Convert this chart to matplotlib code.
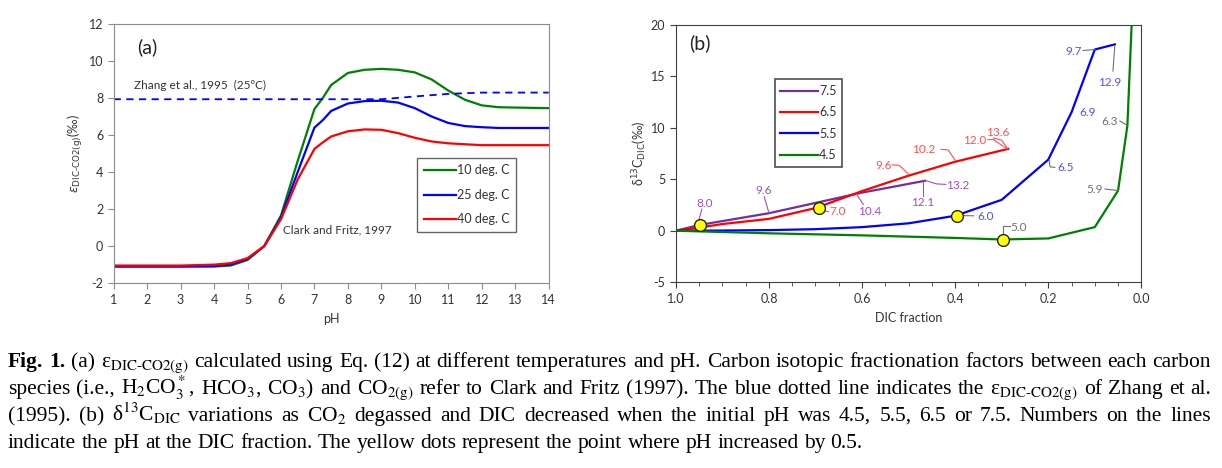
import numpy as np
import matplotlib
matplotlib.use("Agg")
import matplotlib.pyplot as plt
from matplotlib.ticker import MultipleLocator

plt.rcParams["font.family"] = ["Lato", "DejaVu Sans"]
plt.rcParams["axes.unicode_minus"] = False

# ---- panel (a): epsilon DIC-CO2(g) vs pH ----
ph = [1, 2, 3, 4, 4.5, 5, 5.5, 6, 6.5, 7, 7.25, 7.5, 8, 8.5, 9, 9.5, 10, 10.5, 11, 11.5, 12, 12.5, 13, 14]
eps_10 = [-1.1, -1.1, -1.1, -1.1, -1.05, -0.75, 0.0, 1.65, 4.6, 7.4, 8.0, 8.7, 9.35, 9.52, 9.57, 9.52,
          9.38, 9.0, 8.4, 7.9, 7.6, 7.5, 7.48, 7.45]
eps_25 = [-1.1, -1.1, -1.1, -1.08, -1.0, -0.7, 0.0, 1.55, 4.0, 6.4, 6.8, 7.3, 7.7, 7.83, 7.85, 7.75,
          7.45, 7.0, 6.65, 6.48, 6.42, 6.38, 6.38, 6.38]
eps_40 = [-1.05, -1.05, -1.05, -1.0, -0.92, -0.65, 0.0, 1.45, 3.6, 5.25, 5.6, 5.92, 6.2, 6.3, 6.28, 6.1,
          5.85, 5.65, 5.55, 5.5, 5.45, 5.45, 5.45, 5.45]
zhang_ph = [1, 9, 10, 11, 12, 14]
zhang_eps = [7.93, 7.93, 8.08, 8.22, 8.29, 8.29]

# ---- panel (b): d13C_DIC vs DIC fraction ----
f75 = [1.0, 0.95, 0.8, 0.7, 0.6, 0.5, 0.465]
d75 = [0.0, 0.55, 1.7, 2.7, 3.7, 4.55, 4.85]
f65 = [1.0, 0.95, 0.9, 0.8, 0.7, 0.6, 0.5, 0.4, 0.3, 0.286]
d65 = [0.0, 0.3, 0.65, 1.15, 2.2, 3.85, 5.35, 6.7, 7.8, 7.95]
f55 = [1.0, 0.9, 0.8, 0.7, 0.6, 0.5, 0.4, 0.3, 0.2, 0.15, 0.1, 0.057]
d55 = [0.0, 0.02, 0.06, 0.15, 0.35, 0.72, 1.45, 3.0, 6.9, 11.5, 17.6, 18.1]
f45 = [1.0, 0.8, 0.6, 0.4, 0.3, 0.2, 0.1, 0.05, 0.03, 0.019]
d45 = [0.0, -0.25, -0.45, -0.7, -0.85, -0.75, 0.35, 3.9, 10.2, 22.0]
dot_f = [0.948, 0.692, 0.395, 0.298]
dot_d = [0.56, 2.18, 1.47, -0.86]

purple, red, blue, green = "#7030A0", "#FF0000", "#0000FF", "#008000"
lpurple, lred, lblue, gray = "#A050C0", "#FF5050", "#5050FF", "#707070"

# label text, text position, leader polyline, text colour, leader colour
labels_b = [
    ("8.0", (0.939, 2.6), [(0.944, 2.1), (0.95, 1.1)], lpurple, lpurple),
    ("9.6", (0.812, 3.86), [(0.81, 3.3), (0.8, 1.75)], lpurple, lpurple),
    ("10.4", (0.583, 1.9), [(0.597, 2.55), (0.612, 3.55)], lpurple, lpurple),
    ("12.1", (0.47, 2.73), [(0.47, 3.35), (0.47, 4.8)], lpurple, lpurple),
    ("13.2", (0.395, 4.44), [(0.462, 4.85), (0.44, 4.55), (0.42, 4.5)], lpurple, lpurple),
    ("7.0", (0.652, 1.85), [(0.688, 2.0), (0.672, 1.85)], lred, lred),
    ("9.6", (0.553, 6.3), [(0.535, 6.4), (0.52, 6.35), (0.5, 5.5)], lred, lred),
    ("10.2", (0.467, 7.85), [(0.43, 7.9), (0.415, 7.85), (0.4, 6.85)], lred, lred),
    ("12.0", (0.358, 8.8), [(0.33, 8.85), (0.318, 8.85), (0.288, 7.95)], lred, lred),
    ("13.6", (0.308, 9.55), [(0.318, 9.0), (0.3, 8.8), (0.288, 8.0)], lred, lred),
    ("6.0", (0.335, 1.43), [(0.388, 1.47), (0.36, 1.45)], lblue, gray),
    ("6.5", (0.163, 6.15), [(0.198, 6.85), (0.196, 6.2), (0.186, 6.15)], lblue, gray),
    ("6.9", (0.115, 11.45), None, lblue, gray),
    ("9.7", (0.145, 17.4), [(0.125, 17.5), (0.1, 17.6)], lblue, gray),
    ("12.9", (0.069, 14.37), [(0.057, 18.0), (0.061, 15.5)], lblue, gray),
    ("5.0", (0.263, 0.35), [(0.297, -0.5), (0.297, 0.45), (0.283, 0.45)], gray, gray),
    ("5.9", (0.1, 4.0), [(0.078, 4.05), (0.05, 3.9)], gray, gray),
    ("6.3", (0.069, 10.6), [(0.046, 10.65), (0.031, 10.25)], gray, gray),
]

fig = plt.figure(figsize=(12.22, 4.68), dpi=100)

# ---------------- panel (a)
ax = fig.add_axes([0.093, 0.395, 0.356, 0.554])
ax.plot(ph, eps_10, color=green, lw=1.6, label="10 deg. C")
ax.plot(ph, eps_25, color=blue, lw=1.6, label="25 deg. C")
ax.plot(ph, eps_40, color=red, lw=1.6, label="40 deg. C")
ax.plot(zhang_ph, zhang_eps, color=blue, lw=1.3, ls=(0, (4, 3)))
ax.set_xlim(1, 14)
ax.set_ylim(-2, 12)
ax.xaxis.set_major_locator(MultipleLocator(1))
ax.yaxis.set_major_locator(MultipleLocator(2))
for s in ax.spines.values():
    s.set_color("#8c8c8c")
ax.tick_params(direction="out", length=4, color="#8c8c8c", labelsize=9, labelcolor="#333333")
ax.set_xlabel("pH", fontsize=9, color="#333333", labelpad=5)
ax.set_ylabel(r"$\varepsilon_{\mathrm{DIC\text{-}CO2(g)}}$(‰)", fontsize=9, color="#333333", labelpad=3)
ax.text(1.7, 10.75, "(a)", fontsize=14, color="#222222", va="center")
ax.text(1.6, 8.7, "Zhang et al., 1995  (25ºC)", fontsize=8.5, color="#333333", va="center")
ax.text(6.05, 0.9, "Clark and Fritz, 1997", fontsize=8.5, color="#333333", va="center")
leg = ax.legend(loc="upper left", bbox_to_anchor=(0.698, 0.482), fontsize=9, frameon=True, fancybox=False,
                borderpad=0.5, labelspacing=1.0, handlelength=2.6, handletextpad=0.1, borderaxespad=0)
leg.get_frame().set_edgecolor("#404040")
leg.get_frame().set_linewidth(1.0)
for t in leg.get_texts():
    t.set_color("#333333")

# ---------------- panel (b)
bx = fig.add_axes([0.553, 0.397, 0.381, 0.550])
bx.plot(f75, d75, color=purple, lw=1.6, label="7.5")
bx.plot(f65, d65, color=red, lw=1.6, label="6.5")
bx.plot(f55, d55, color=blue, lw=1.6, label="5.5")
bx.plot(f45, d45, color=green, lw=1.6, label="4.5")
bx.plot(dot_f, dot_d, "o", ms=8.5, mfc="#FFFF00", mec="#222222", mew=1.0, zorder=5)
for txt, pos, lead, tc, lc in labels_b:
    bx.text(pos[0], pos[1], txt, fontsize=8.5, color=tc, ha="center", va="center")
    if lead:
        lx, ly = zip(*lead)
        bx.plot(lx, ly, color=lc, lw=0.8)
bx.set_xlim(1.0, 0.0)
bx.set_ylim(-5, 20)
bx.xaxis.set_major_locator(MultipleLocator(0.2))
bx.xaxis.set_minor_locator(MultipleLocator(0.05))
bx.yaxis.set_major_locator(MultipleLocator(5))
bx.xaxis.set_major_formatter(matplotlib.ticker.FormatStrFormatter("%.1f"))
for s in bx.spines.values():
    s.set_color("#404040")
bx.tick_params(which="both", direction="out", color="#404040", labelsize=9, labelcolor="#333333")
bx.tick_params(which="major", length=4)
bx.tick_params(which="minor", length=3)
bx.set_xlabel("DIC fraction", fontsize=9, color="#333333", labelpad=5)
bx.set_ylabel(r"δ$^{13}$C$_{\mathrm{DIC}}$(‰)", fontsize=9, color="#333333", labelpad=1)
bx.text(0.948, 18.2, "(b)", fontsize=14, color="#222222", ha="center", va="center")
leg2 = bx.legend(loc="upper left", bbox_to_anchor=(0.2126, 0.788), fontsize=9, frameon=True, fancybox=False,
                 borderpad=0.45, labelspacing=0.75, handlelength=3.0, handletextpad=0.1, borderaxespad=0)
leg2.get_frame().set_edgecolor("#222222")
leg2.get_frame().set_linewidth(1.2)
for t in leg2.get_texts():
    t.set_color("#333333")

# ---------------- caption (justified lines)
eps_sub = r"ε$_{\mathrm{DIC\text{-}CO2(g)}}$"
cap_lines = [
    ([("Fig.", "bold"), ("1.", "bold")] +
     [(w, "normal") for w in ("(a) " + eps_sub + " calculated using Eq. (12) at different "
                              "temperatures and pH. Carbon isotopic fractionation factors between each carbon").split(" ")], True),
    ([(w, "normal") for w in (r"species (i.e., H$_2$CO$_3^*$, HCO$_3$, CO$_3$) and CO$_{\mathrm{2(g)}}$ refer to Clark and Fritz "
                              "(1997). The blue dotted line indicates the " + eps_sub + " of Zhang et al.").split(" ")], True),
    ([(w, "normal") for w in (r"(1995). (b) δ$^{\mathrm{13}}$C$_{\mathrm{DIC}}$ variations as CO$_2$ degassed and DIC decreased "
                              "when the initial pH was 4.5, 5.5, 6.5 or 7.5. Numbers on the lines").split(" ")], True),
    ([(w, "normal") for w in ("indicate the pH at the DIC fraction. The yellow dots represent the point where "
                              "pH increased by 0.5.").split(" ")], False),
]
cap_fs = 15.5
W = fig.bbox.width
x0, x1 = 8.0, 1211.0
base_px = [367, 394, 421, 448]
r = fig.canvas.get_renderer()
for (tokens, justify), by in zip(cap_lines, base_px):
    yf = 1 - by / fig.bbox.height
    texts = [fig.text(0, yf, s, fontsize=cap_fs, family="Liberation Serif", math_fontfamily="stix",
                      weight=w, va="baseline", color="black") for s, w in tokens]
    widths = [t.get_window_extent(r).width for t in texts]
    space = 0.25 * cap_fs * 100 / 72
    if justify:
        space = (x1 - x0 - sum(widths)) / (len(widths) - 1)
    x = x0
    for t, w in zip(texts, widths):
        t.set_x(x / W)
        x += w + space

fig.savefig("out.png", dpi=100)
